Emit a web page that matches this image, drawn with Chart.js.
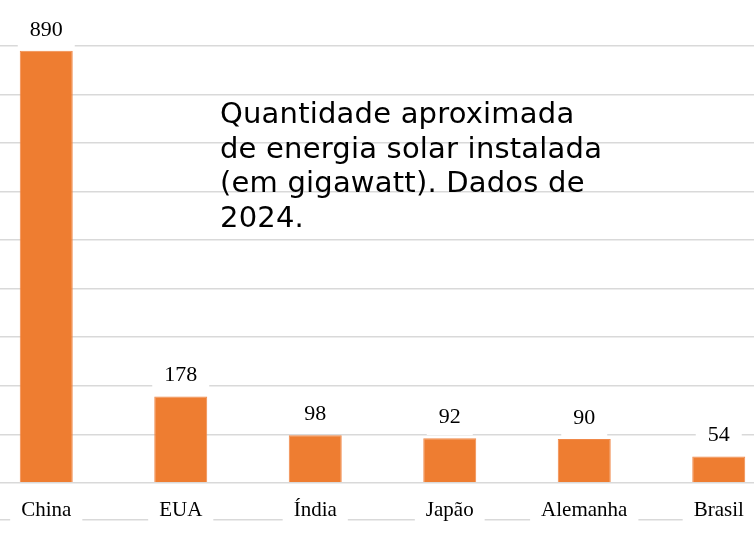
<!DOCTYPE html>
<html>
<head>
<meta charset="utf-8">
<script src="https://cdn.jsdelivr.net/npm/chart.js@4.4.1/dist/chart.umd.min.js"></script>
<style>
  html, body { margin: 0; padding: 0; background: #fff; }
  .wrap { position: relative; width: 754px; height: 534px; overflow: hidden; }
  .wrap canvas { position: absolute; left: -21px; top: 0; }
  .note {
    position: absolute; left: 220px; top: 96px;
    font-family: "DejaVu Sans", sans-serif; font-size: 29px;
    line-height: 34.5px; letter-spacing: 0.2px; color: #000;
    white-space: nowrap;
  }
</style>
</head>
<body>
<div class="wrap">
  <canvas id="solar" width="807" height="534" style="width:807px;height:534px"></canvas>
  <div class="note">Quantidade aproximada<br>de energia solar instalada<br>(em gigawatt). Dados de<br>2024.</div>
</div>
<script>
const countries = ['China', 'EUA', 'Índia', 'Japão', 'Alemanha', 'Brasil'];
const gigawatts = [890, 178, 98, 92, 90, 54];
const yMax = 900;
const yStep = 100;

const serif = '"Liberation Serif", "Times New Roman", serif';

// white-boxed value labels above each bar
const valueLabels = {
  id: 'valueLabels',
  afterDatasetsDraw(chart) {
    const ctx = chart.ctx;
    const meta = chart.getDatasetMeta(0);
    ctx.save();
    ctx.font = '22px ' + serif;
    ctx.textAlign = 'center';
    ctx.textBaseline = 'middle';
    meta.data.forEach((bar, i) => {
      const txt = String(gigawatts[i]);
      const w = ctx.measureText(txt).width;
      ctx.fillStyle = '#fff';
      ctx.fillRect(bar.x - w / 2 - 12, bar.y - 38, w + 24, 35);
      ctx.fillStyle = '#000';
      ctx.fillText(txt, bar.x, bar.y - 21);
    });
    ctx.restore();
  }
};

// faint line running behind the category labels
const labelLine = {
  id: 'labelLine',
  beforeDraw(chart) {
    const ctx = chart.ctx;
    const x = chart.scales.x;
    ctx.save();
    ctx.strokeStyle = '#d9d9d9';
    ctx.lineWidth = 1.5;
    ctx.beginPath();
    ctx.moveTo(0, x.top + 37);
    ctx.lineTo(chart.width, x.top + 37);
    ctx.stroke();
    ctx.restore();
  }
};

new Chart(document.getElementById('solar'), {
  type: 'bar',
  data: {
    labels: countries,
    datasets: [{
      data: gigawatts,
      backgroundColor: '#ee7d31',
      borderColor: '#f0894a',
      borderWidth: 1,
      categoryPercentage: 1,
      barPercentage: 0.394
    }]
  },
  options: {
    responsive: false,
    animation: false,
    layout: { padding: { top: 46, bottom: -4, left: 0, right: 0 } },
    plugins: { legend: { display: false }, tooltip: { enabled: false } },
    scales: {
      x: {
        grid: { display: false, drawTicks: false },
        border: { display: false },
        ticks: {
          color: '#000',
          font: { family: serif, size: 21 },
          padding: 15,
          maxRotation: 0,
          showLabelBackdrop: true,
          backdropColor: '#fff',
          backdropPadding: { top: 4, bottom: 8, left: 11, right: 11 }
        }
      },
      y: {
        min: 0,
        max: yMax,
        grid: { color: '#d9d9d9', lineWidth: 1.5, drawTicks: false },
        border: { display: false },
        ticks: { display: false, stepSize: yStep }
      }
    }
  },
  plugins: [labelLine, valueLabels]
});
</script>
</body>
</html>
